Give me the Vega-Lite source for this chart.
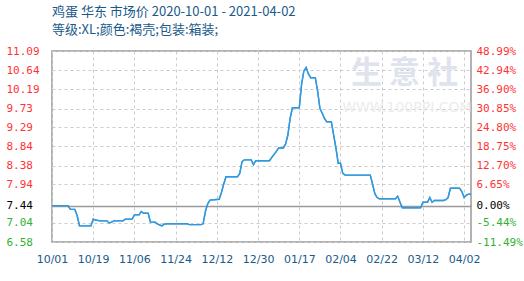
{
  "$schema": "https://vega.github.io/schema/vega-lite/v6.json",
  "width": 419,
  "height": 191,
  "autosize": "none",
  "padding": {"left": 52, "top": 51, "right": 53, "bottom": 39},
  "background": "white",
  "title": {
    "text": "鸡蛋 华东 市场价 2020-10-01 - 2021-04-02",
    "subtitle": "等级:XL;颜色:褐壳;包装:箱装;",
    "anchor": "start",
    "frame": "group",
    "font": "Noto Sans CJK SC",
    "fontSize": 13,
    "fontWeight": "normal",
    "color": "#1a5a8a",
    "subtitleFont": "Noto Sans CJK SC",
    "subtitleFontSize": 13,
    "subtitleColor": "#1a5a8a",
    "subtitlePadding": 5,
    "offset": 8
  },
  "config": {"view": {"stroke": "#999999", "strokeWidth": 1.5}},
  "datasets": {
    "price": [
      {"date": "2020-10-01", "price": 7.44},
      {"date": "2020-10-08", "price": 7.44},
      {"date": "2020-10-09", "price": 7.35},
      {"date": "2020-10-11", "price": 7.35},
      {"date": "2020-10-12", "price": 7.2},
      {"date": "2020-10-13", "price": 6.96},
      {"date": "2020-10-18", "price": 6.96},
      {"date": "2020-10-19", "price": 7.12},
      {"date": "2020-10-20", "price": 7.1},
      {"date": "2020-10-22", "price": 7.08},
      {"date": "2020-10-25", "price": 7.08},
      {"date": "2020-10-26", "price": 7.03},
      {"date": "2020-10-27", "price": 7.05},
      {"date": "2020-10-28", "price": 7.08},
      {"date": "2020-11-01", "price": 7.08},
      {"date": "2020-11-02", "price": 7.12},
      {"date": "2020-11-05", "price": 7.12},
      {"date": "2020-11-06", "price": 7.22},
      {"date": "2020-11-08", "price": 7.22},
      {"date": "2020-11-09", "price": 7.3},
      {"date": "2020-11-10", "price": 7.26},
      {"date": "2020-11-12", "price": 7.26},
      {"date": "2020-11-13", "price": 7.05},
      {"date": "2020-11-15", "price": 7.05},
      {"date": "2020-11-16", "price": 7.01},
      {"date": "2020-11-18", "price": 6.96},
      {"date": "2020-11-19", "price": 7.0},
      {"date": "2020-11-20", "price": 7.01},
      {"date": "2020-11-29", "price": 7.01},
      {"date": "2020-11-30", "price": 6.99},
      {"date": "2020-12-05", "price": 6.99},
      {"date": "2020-12-06", "price": 7.01},
      {"date": "2020-12-07", "price": 7.3},
      {"date": "2020-12-08", "price": 7.48},
      {"date": "2020-12-09", "price": 7.57},
      {"date": "2020-12-13", "price": 7.59},
      {"date": "2020-12-14", "price": 7.75},
      {"date": "2020-12-15", "price": 7.95},
      {"date": "2020-12-16", "price": 8.12},
      {"date": "2020-12-21", "price": 8.12},
      {"date": "2020-12-22", "price": 8.2},
      {"date": "2020-12-23", "price": 8.48},
      {"date": "2020-12-24", "price": 8.52},
      {"date": "2020-12-27", "price": 8.52},
      {"date": "2020-12-28", "price": 8.41},
      {"date": "2020-12-29", "price": 8.5},
      {"date": "2021-01-04", "price": 8.5},
      {"date": "2021-01-05", "price": 8.58},
      {"date": "2021-01-06", "price": 8.65},
      {"date": "2021-01-07", "price": 8.72},
      {"date": "2021-01-08", "price": 8.8},
      {"date": "2021-01-10", "price": 8.8},
      {"date": "2021-01-11", "price": 8.89},
      {"date": "2021-01-12", "price": 9.1},
      {"date": "2021-01-13", "price": 9.5},
      {"date": "2021-01-14", "price": 9.75},
      {"date": "2021-01-17", "price": 9.75},
      {"date": "2021-01-18", "price": 10.3},
      {"date": "2021-01-19", "price": 10.62},
      {"date": "2021-01-20", "price": 10.7},
      {"date": "2021-01-21", "price": 10.55},
      {"date": "2021-01-22", "price": 10.46},
      {"date": "2021-01-24", "price": 10.46},
      {"date": "2021-01-25", "price": 10.15},
      {"date": "2021-01-26", "price": 9.74},
      {"date": "2021-01-27", "price": 9.62},
      {"date": "2021-01-28", "price": 9.5},
      {"date": "2021-01-29", "price": 9.42},
      {"date": "2021-01-31", "price": 9.42},
      {"date": "2021-02-01", "price": 9.11},
      {"date": "2021-02-02", "price": 8.8},
      {"date": "2021-02-03", "price": 8.44},
      {"date": "2021-02-04", "price": 8.44},
      {"date": "2021-02-05", "price": 8.2},
      {"date": "2021-02-06", "price": 8.16},
      {"date": "2021-02-17", "price": 8.16},
      {"date": "2021-02-18", "price": 7.95},
      {"date": "2021-02-19", "price": 7.72},
      {"date": "2021-02-20", "price": 7.63},
      {"date": "2021-02-21", "price": 7.6},
      {"date": "2021-02-28", "price": 7.6},
      {"date": "2021-03-01", "price": 7.66},
      {"date": "2021-03-02", "price": 7.52},
      {"date": "2021-03-03", "price": 7.39},
      {"date": "2021-03-11", "price": 7.39},
      {"date": "2021-03-12", "price": 7.52},
      {"date": "2021-03-14", "price": 7.52},
      {"date": "2021-03-15", "price": 7.63},
      {"date": "2021-03-16", "price": 7.52},
      {"date": "2021-03-17", "price": 7.56},
      {"date": "2021-03-21", "price": 7.56},
      {"date": "2021-03-22", "price": 7.58},
      {"date": "2021-03-23", "price": 7.63},
      {"date": "2021-03-24", "price": 7.85},
      {"date": "2021-03-28", "price": 7.85},
      {"date": "2021-03-29", "price": 7.77},
      {"date": "2021-03-30", "price": 7.63},
      {"date": "2021-03-31", "price": 7.69},
      {"date": "2021-04-01", "price": 7.71},
      {"date": "2021-04-02", "price": 7.71}
    ],
    "watermark": [
      {"date": "2021-03-04", "price": 10.55, "text": "生  意  社", "kind": "big"},
      {"date": "2021-03-05", "price": 9.74, "text": "WWW.100PPI.COM", "kind": "small"}
    ]
  },
  "layer": [
    {
      "data": {"name": "price"},
      "mark": {"type": "line", "color": "#3399dd", "strokeWidth": 1.4},
      "encoding": {
        "x": {
          "field": "date",
          "type": "temporal",
          "scale": {
            "type": "utc",
            "nice": false,
            "domain": [
              {"year": 2020, "month": 10, "date": 1, "utc": true},
              {"year": 2021, "month": 4, "date": 2, "utc": true}
            ]
          },
          "axis": {
            "title": null,
            "values": [
              {"year": 2020, "month": 10, "date": 1, "utc": true},
              {"year": 2020, "month": 10, "date": 19, "utc": true},
              {"year": 2020, "month": 11, "date": 6, "utc": true},
              {"year": 2020, "month": 11, "date": 24, "utc": true},
              {"year": 2020, "month": 12, "date": 12, "utc": true},
              {"year": 2020, "month": 12, "date": 30, "utc": true},
              {"year": 2021, "month": 1, "date": 17, "utc": true},
              {"year": 2021, "month": 2, "date": 4, "utc": true},
              {"year": 2021, "month": 2, "date": 22, "utc": true},
              {"year": 2021, "month": 3, "date": 12, "utc": true},
              {"year": 2021, "month": 3, "date": 30, "utc": true}
            ],
            "labelExpr": "utcFormat(datum.value, '%m/%d') == '03/30' ? '04/02' : utcFormat(datum.value, '%m/%d')",
            "domain": false,
            "ticks": false,
            "tickSize": 0,
            "labelPadding": 11,
            "labelFont": "DejaVu Sans",
            "labelFontSize": 11,
            "labelColor": "#1a5a8a",
            "labelFlush": false,
            "labelOverlap": false,
            "grid": true,
            "gridDash": [3, 3],
            "gridColor": "#cccccc",
            "gridWidth": 1
          }
        },
        "y": {
          "field": "price",
          "type": "quantitative",
          "scale": {"domain": [6.58, 11.09], "nice": false, "zero": false},
          "axis": {
            "title": null,
            "orient": "left",
            "values": [6.58, 7.04, 7.44, 7.94, 8.38, 8.84, 9.29, 9.73, 10.19, 10.64, 11.09],
            "format": ".2f",
            "domain": false,
            "ticks": false,
            "tickSize": 0,
            "labelAlign": "left",
            "labelBaseline": "middle",
            "labelPadding": 46,
            "labelFont": "DejaVu Sans Mono",
            "labelFontSize": 11,
            "labelFlush": false,
            "labelOverlap": false,
            "labelColor": {
              "condition": [
                {"test": "datum.value > 7.45", "value": "#ff3333"},
                {"test": "datum.value < 7.43", "value": "#33b033"}
              ],
              "value": "#000000"
            },
            "grid": true,
            "gridColor": {"condition": {"test": "datum.value == 7.44", "value": "#999999"}, "value": "#cccccc"},
            "gridDash": {"condition": {"test": "datum.value == 7.44", "value": []}, "value": [3, 3]},
            "gridWidth": {"condition": {"test": "datum.value == 7.44", "value": 1.6}, "value": 1}
          }
        }
      }
    },
    {
      "data": {"name": "watermark"},
      "transform": [{"filter": "datum.kind == 'big'"}],
      "mark": {"type": "text", "font": "Noto Sans CJK SC", "fontSize": 31, "fontWeight": "bold", "color": "#dfe3ee", "align": "center", "baseline": "middle"},
      "encoding": {
        "x": {"field": "date", "type": "temporal"},
        "y": {"field": "price", "type": "quantitative", "axis": null},
        "text": {"field": "text"}
      }
    },
    {
      "data": {"name": "watermark"},
      "transform": [{"filter": "datum.kind == 'small'"}],
      "mark": {"type": "text", "font": "DejaVu Sans", "fontSize": 14, "color": "#ececec", "align": "center", "baseline": "middle"},
      "encoding": {
        "x": {"field": "date", "type": "temporal"},
        "y": {"field": "price", "type": "quantitative", "axis": null},
        "text": {"field": "text"}
      }
    },
    {
      "data": {"name": "price"},
      "mark": {"type": "line", "color": "#3399dd", "strokeWidth": 1.4},
      "encoding": {
        "x": {"field": "date", "type": "temporal"},
        "y": {
          "field": "price",
          "type": "quantitative",
          "axis": {
            "title": null,
            "orient": "right",
            "values": [6.58, 7.04, 7.44, 7.94, 8.38, 8.84, 9.29, 9.73, 10.19, 10.64, 11.09],
            "labelExpr": "datum.value > 11 ? '48.99%' : datum.value > 10.6 ? '42.94%' : datum.value > 10.1 ? '36.90%' : datum.value > 9.7 ? '30.85%' : datum.value > 9.2 ? '24.80%' : datum.value > 8.8 ? '18.75%' : datum.value > 8.3 ? '12.70%' : datum.value > 7.9 ? '6.65%' : datum.value > 7.4 ? '0.00%' : datum.value > 7 ? '-5.44%' : '-11.49%'",
            "domain": false,
            "ticks": false,
            "tickSize": 0,
            "grid": false,
            "labelAlign": "left",
            "labelBaseline": "middle",
            "labelPadding": 5,
            "labelFont": "DejaVu Sans Mono",
            "labelFontSize": 11,
            "labelFlush": false,
            "labelOverlap": false,
            "labelColor": {
              "condition": [
                {"test": "datum.value > 7.45", "value": "#ff3333"},
                {"test": "datum.value < 7.43", "value": "#33b033"}
              ],
              "value": "#000000"
            }
          }
        }
      }
    }
  ],
  "resolve": {"axis": {"y": "independent"}}
}
